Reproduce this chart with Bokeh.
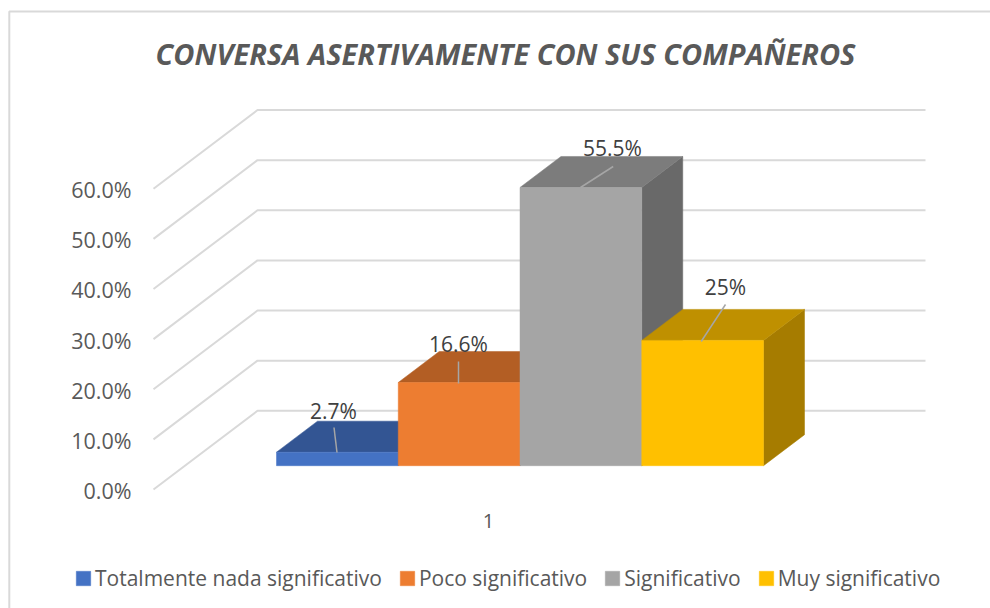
from bokeh.plotting import figure
from bokeh.models import Range1d, Legend, LegendItem
from bokeh.core.properties import value
from bokeh.embed import file_html
from bokeh.resources import INLINE

TITLE = "CONVERSA ASERTIVAMENTE CON SUS COMPAÑEROS"
categories = ["Totalmente nada significativo", "Poco significativo", "Significativo", "Muy significativo"]
values = [2.7, 16.6, 55.5, 25.0]
data_labels = ["2.7%", "16.6%", "55.5%", "25%"]
y_ticks = [0, 10, 20, 30, 40, 50, 60]
y_tick_labels = ["0.0%", "10.0%", "20.0%", "30.0%", "40.0%", "50.0%", "60.0%"]
x_label = "1"

front_colors = ["#4472C4", "#ED7D31", "#A5A5A5", "#FFC000"]
top_colors = ["#335593", "#B35E24", "#7C7C7C", "#BF9000"]
side_colors = ["#2A4674", "#8F4B1D", "#696969", "#A67C00"]

FONT = "Open Sans"
W, H = 990, 608
PX_X = 121.75          # pixels per bar width
PX_Y = 5.013           # pixels per percentage point
X0, Y0 = 276, 410.3    # page pixel of x=0 / y=0


def ux(pixel):
    return (pixel - X0) / PX_X


def uy(pixel):
    return (Y0 - pixel) / PX_Y


p = figure(width=W, height=H, output_backend="svg", toolbar_location=None,
           x_range=Range1d(ux(0), ux(W)), y_range=Range1d(uy(H), uy(0)),
           min_border=0, outline_line_color=None, x_axis_type=None, y_axis_type=None)
p.grid.visible = False
p.background_fill_color = "white"
p.border_fill_color = "white"

GRID = "#D9D9D9"
TICK_TXT = "#595959"
LABEL_TXT = "#404040"

# chart frame
p.line([ux(8.8), ux(8.8), ux(W)], [uy(H), uy(11), uy(11)], line_color="#D9D9D9", line_width=2)

# gridlines: diagonal on the floor side, then along the back wall
FRONT_X, WALL_X, RIGHT_X = ux(153), ux(257), ux(925)
AXIS_DY = uy(489) - uy(410.3)
for t in y_ticks:
    p.line([FRONT_X, WALL_X, RIGHT_X], [t + AXIS_DY, t, t], line_color=GRID, line_width=2)

p.text([ux(131)] * len(y_ticks), [t + uy(490) for t in y_ticks], text=y_tick_labels,
       text_font=value(FONT), text_font_size="21.5px", text_color=TICK_TXT,
       text_align="right", text_baseline="middle")

# 3D bars
BASE = uy(465.2)
DX, DY = 41 / PX_X, 31 / PX_Y
fronts = []
for i, v in enumerate(values):
    x0, x1 = i, i + 1
    top = BASE + v
    p.patch([x1, x1 + DX, x1 + DX, x1], [BASE, BASE + DY, top + DY, top],
            fill_color=side_colors[i], line_color=side_colors[i], line_width=0.5)
    p.patch([x0, x0 + DX, x1 + DX, x1], [top, top + DY, top + DY, top],
            fill_color=top_colors[i], line_color=top_colors[i], line_width=0.5)
    fronts.append(p.quad(left=[x0], right=[x1], bottom=[BASE], top=[top],
                         fill_color=front_colors[i], line_color=front_colors[i], line_width=0.5))

# leader lines (value label to bar top)
leaders = [((333.5, 427), (336.5, 452)), ((458, 361), (458, 383)),
           ((612.7, 166), (580, 187)), ((725, 304), (700.7, 341))]
for a, b in leaders:
    p.line([ux(a[0]), ux(b[0])], [uy(a[1]), uy(b[1])], line_color="#A6A6A6", line_width=1.5)

label_xy = [(333, 410), (458, 343), (612, 147), (725, 286.5)]
p.text([ux(c[0]) for c in label_xy], [uy(c[1]) for c in label_xy], text=data_labels,
       text_font=value(FONT), text_font_size="21px", text_color=LABEL_TXT,
       text_align="center", text_baseline="middle")

p.text([ux(488)], [uy(520)], text=[x_label], text_font=value(FONT), text_font_size="20px",
       text_color=TICK_TXT, text_align="center", text_baseline="middle")

p.text([ux(505)], [uy(53)], text=[TITLE], text_font=value(FONT), text_font_size="29px",
       text_font_style="bold italic", text_color="#595959",
       text_align="center", text_baseline="middle")

legend = Legend(items=[LegendItem(label=c, renderers=[r]) for c, r in zip(categories, fronts)],
                orientation="horizontal", location=(74, 16), padding=0, margin=0, spacing=16,
                glyph_width=18, glyph_height=18, label_standoff=3, label_height=20,
                label_text_font=FONT, label_text_font_size="21px", label_text_color=TICK_TXT,
                background_fill_alpha=0, border_line_color=None, click_policy="none")
p.add_layout(legend, "center")

open("out.html", "w").write(file_html(p, INLINE))
